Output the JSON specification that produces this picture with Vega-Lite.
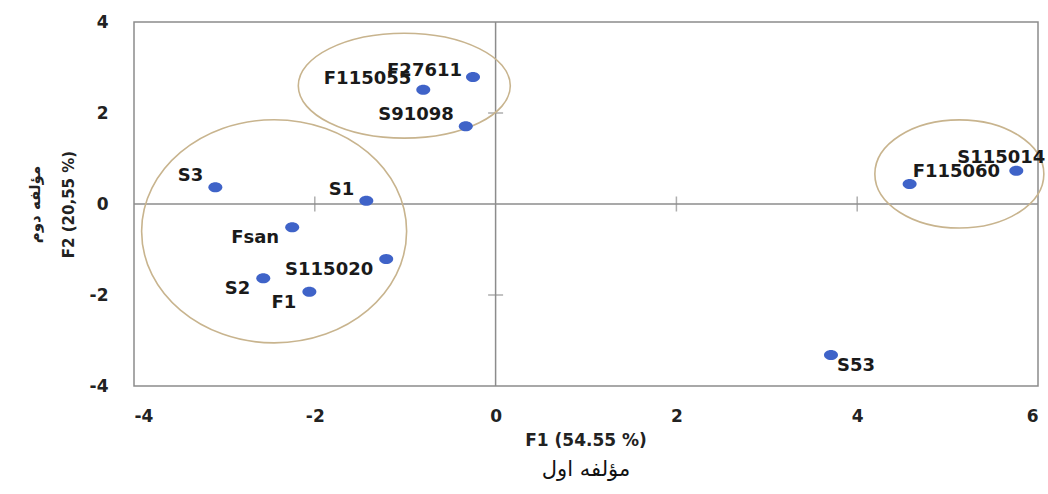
{
  "$schema": "https://vega.github.io/schema/vega-lite/v6.json",
  "width": 904,
  "height": 364,
  "autosize": "none",
  "padding": {"left": 134, "top": 22, "right": 10, "bottom": 108},
  "background": "white",
  "config": {
    "view": {"stroke": "#8c8c8c", "strokeWidth": 1.5},
    "font": "DejaVu Sans"
  },
  "title": {
    "text": "F1 (54.55 %)",
    "subtitle": "مؤلفه اول",
    "orient": "bottom",
    "anchor": "middle",
    "frame": "group",
    "font": "DejaVu Sans",
    "fontSize": 17,
    "fontWeight": "bold",
    "color": "#222222",
    "subtitleFont": "DejaVu Sans",
    "subtitleFontSize": 21,
    "subtitleColor": "#111111",
    "subtitlePadding": 9,
    "offset": 9
  },
  "datasets": {
    "pts": [
      {"name": "F27611", "F1": -0.25, "F2": 2.79},
      {"name": "F115055", "F1": -0.80, "F2": 2.51},
      {"name": "S91098", "F1": -0.33, "F2": 1.71},
      {"name": "S3", "F1": -3.10, "F2": 0.37},
      {"name": "S1", "F1": -1.43, "F2": 0.07},
      {"name": "Fsan", "F1": -2.25, "F2": -0.51},
      {"name": "S115020", "F1": -1.21, "F2": -1.21},
      {"name": "S2", "F1": -2.57, "F2": -1.63},
      {"name": "F1", "F1": -2.06, "F2": -1.93},
      {"name": "S53", "F1": 3.71, "F2": -3.32},
      {"name": "F115060", "F1": 4.58, "F2": 0.44},
      {"name": "S115014", "F1": 5.76, "F2": 0.73}
    ]
  },
  "layer": [
    {
      "data": {"values": [{"v": 0}]},
      "mark": {"type": "rule", "color": "#8c8c8c", "strokeWidth": 1.5},
      "encoding": {"x": {"field": "v", "type": "quantitative", "scale": {"domain": [-4, 6], "nice": false, "zero": false},
        "axis": {"values": [-4, -2, 0, 2, 4, 6], "domain": false, "ticks": false, "grid": false, "labelExpr": "'' + datum.value", "labelFont": "DejaVu Sans", "labelFontSize": 17, "labelFontWeight": "bold", "labelColor": "#222222", "labelPadding": 22, "title": null}}}
    },
    {
      "data": {"values": [{"v": 0}]},
      "mark": {"type": "rule", "color": "#8c8c8c", "strokeWidth": 1.5},
      "encoding": {"y": {"field": "v", "type": "quantitative", "scale": {"domain": [-4, 4], "nice": false, "zero": false},
        "axis": {"values": [-4, -2, 0, 2, 4], "domain": false, "ticks": false, "grid": false, "labelExpr": "'' + datum.value", "labelFont": "DejaVu Sans", "labelFontSize": 17, "labelFontWeight": "bold", "labelColor": "#222222", "labelPadding": 26,
          "title": ["مؤلفه دوم", "F2 (20,55 %)"], "titleFont": "DejaVu Sans", "titleFontSize": 15, "titleFontWeight": "bold", "titleColor": "#222222", "titleLineHeight": 34, "titlePadding": 13}}}
    },
    {
      "data": {"values": [{"v": -2}, {"v": 2}, {"v": 4}]},
      "mark": {"type": "tick", "orient": "vertical", "color": "#8c8c8c", "thickness": 1.5, "size": 15},
      "encoding": {"x": {"field": "v", "type": "quantitative"}, "y": {"datum": 0, "type": "quantitative"}}
    },
    {
      "data": {"values": [{"v": -2}, {"v": 2}]},
      "mark": {"type": "tick", "orient": "horizontal", "color": "#8c8c8c", "thickness": 1.5, "size": 15},
      "encoding": {"y": {"field": "v", "type": "quantitative"}, "x": {"datum": 0, "type": "quantitative"}}
    },
    {
      "data": {"values": [{"F1": -1.01, "F2": 2.60}]},
      "mark": {"type": "point", "shape": "M -1 0 A 1 0.495 0 1 0 1 0 A 1 0.495 0 1 0 -1 0 Z", "size": 44944, "filled": false, "stroke": "#c8b48e", "strokeWidth": 1.6, "opacity": 1},
      "encoding": {"x": {"field": "F1", "type": "quantitative"}, "y": {"field": "F2", "type": "quantitative"}}
    },
    {
      "data": {"values": [{"F1": -2.45, "F2": -0.60}]},
      "mark": {"type": "point", "shape": "M -1 0 A 1 0.842 0 1 0 1 0 A 1 0.842 0 1 0 -1 0 Z", "size": 70225, "filled": false, "stroke": "#c8b48e", "strokeWidth": 1.6, "opacity": 1},
      "encoding": {"x": {"field": "F1", "type": "quantitative"}, "y": {"field": "F2", "type": "quantitative"}}
    },
    {
      "data": {"values": [{"F1": 5.13, "F2": 0.66}]},
      "mark": {"type": "point", "shape": "M -1 0 A 1 0.64 0 1 0 1 0 A 1 0.64 0 1 0 -1 0 Z", "size": 28561, "filled": false, "stroke": "#c8b48e", "strokeWidth": 1.6, "opacity": 1},
      "encoding": {"x": {"field": "F1", "type": "quantitative"}, "y": {"field": "F2", "type": "quantitative"}}
    },
    {
      "data": {"name": "pts"},
      "mark": {"type": "point", "shape": "M -1 0 A 1 0.72 0 1 0 1 0 A 1 0.72 0 1 0 -1 0 Z", "size": 196, "filled": true, "color": "#3f63c8", "opacity": 1},
      "encoding": {"x": {"field": "F1", "type": "quantitative"}, "y": {"field": "F2", "type": "quantitative"}}
    },
    {
      "data": {"name": "pts"},
      "transform": [{"filter": {"field": "name", "oneOf": ["F115055", "S91098", "S1", "S3"]}}],
      "mark": {"type": "text", "align": "right", "baseline": "middle", "dx": -12, "dy": -11, "font": "DejaVu Sans", "fontSize": 18, "fontWeight": "bold", "color": "#1a1a1a"},
      "encoding": {"x": {"field": "F1", "type": "quantitative"}, "y": {"field": "F2", "type": "quantitative"}, "text": {"field": "name"}}
    },
    {
      "data": {"name": "pts"},
      "transform": [{"filter": {"field": "name", "oneOf": ["F27611"]}}],
      "mark": {"type": "text", "align": "right", "baseline": "middle", "dx": -11, "dy": -6, "font": "DejaVu Sans", "fontSize": 18, "fontWeight": "bold", "color": "#1a1a1a"},
      "encoding": {"x": {"field": "F1", "type": "quantitative"}, "y": {"field": "F2", "type": "quantitative"}, "text": {"field": "name"}}
    },
    {
      "data": {"name": "pts"},
      "transform": [{"filter": {"field": "name", "oneOf": ["Fsan", "S115020", "S2", "F1"]}}],
      "mark": {"type": "text", "align": "right", "baseline": "middle", "dx": -13, "dy": 11, "font": "DejaVu Sans", "fontSize": 18, "fontWeight": "bold", "color": "#1a1a1a"},
      "encoding": {"x": {"field": "F1", "type": "quantitative"}, "y": {"field": "F2", "type": "quantitative"}, "text": {"field": "name"}}
    },
    {
      "data": {"name": "pts"},
      "transform": [{"filter": {"field": "name", "oneOf": ["S53"]}}],
      "mark": {"type": "text", "align": "left", "baseline": "middle", "dx": 6, "dy": 11, "font": "DejaVu Sans", "fontSize": 18, "fontWeight": "bold", "color": "#1a1a1a"},
      "encoding": {"x": {"field": "F1", "type": "quantitative"}, "y": {"field": "F2", "type": "quantitative"}, "text": {"field": "name"}}
    },
    {
      "data": {"name": "pts"},
      "transform": [{"filter": {"field": "name", "oneOf": ["F115060"]}}],
      "mark": {"type": "text", "align": "left", "baseline": "middle", "dx": 3, "dy": -12, "font": "DejaVu Sans", "fontSize": 18, "fontWeight": "bold", "color": "#1a1a1a"},
      "encoding": {"x": {"field": "F1", "type": "quantitative"}, "y": {"field": "F2", "type": "quantitative"}, "text": {"field": "name"}}
    },
    {
      "data": {"name": "pts"},
      "transform": [{"filter": {"field": "name", "oneOf": ["S115014"]}}],
      "mark": {"type": "text", "align": "center", "baseline": "middle", "dx": -15, "dy": -13, "font": "DejaVu Sans", "fontSize": 18, "fontWeight": "bold", "color": "#1a1a1a"},
      "encoding": {"x": {"field": "F1", "type": "quantitative"}, "y": {"field": "F2", "type": "quantitative"}, "text": {"field": "name"}}
    }
  ]
}
